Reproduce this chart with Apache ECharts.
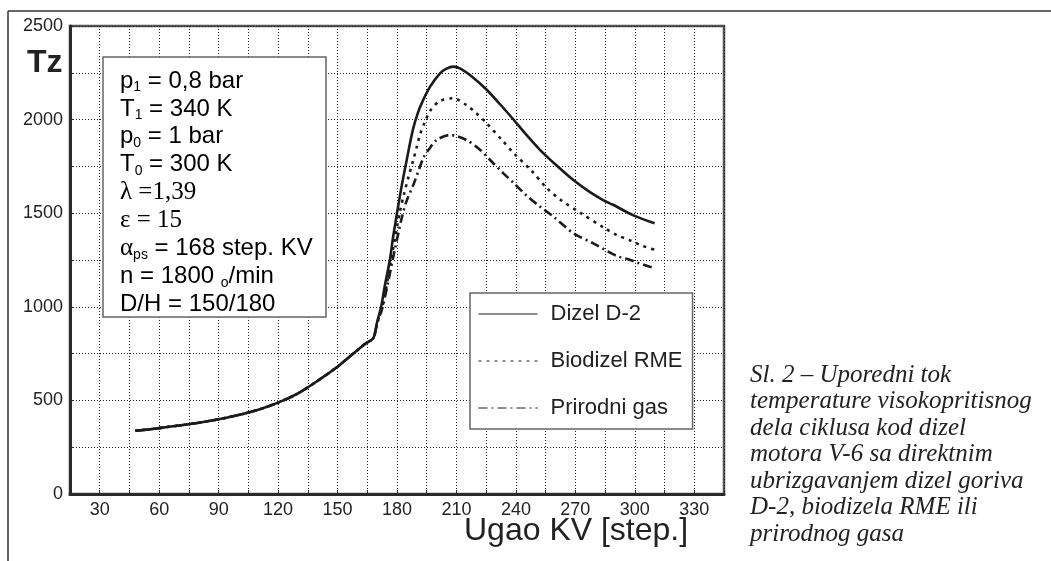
<!DOCTYPE html>
<html>
<head>
<meta charset="utf-8">
<script src="https://cdn.jsdelivr.net/npm/echarts@6/dist/echarts.min.js"></script>
<style>html,body{margin:0;padding:0;background:#fff;}#c{width:1051px;height:561px;}</style>
</head>
<body>
<div id="c"></div>
<script>
// ---- data ----
const seriesNames = ['Dizel D-2', 'Biodizel RME', 'Prirodni gas'];
// compression part shared by all three fuels: [angle, Tz]
const compression = [[48,338],[55,345],[60,352],[70,366],[80,381],[90,399],[100,422],[110,450],[120,488],[130,537],[140,605],[150,680],[155,724],[160,768],[164,803],[168,832]];
const dizel = [[170,920],[172,1000],[174,1120],[176.4,1250],[178,1370],[180,1500],[182.3,1642],[185,1790],[188,1945],[190.5,2035],[193,2100],[196.7,2176],[201.7,2247],[205,2272],[208.4,2283],[212,2272],[218.5,2224],[225,2162],[232,2082],[239,1998],[245,1922],[252,1840],[260,1760],[269,1677],[277,1615],[284,1570],[289,1545],[299,1490],[310,1446]];
const biodizel = [[170,915],[172.6,1000],[177,1250],[181.3,1500],[183.5,1600],[185.7,1690],[188.2,1784],[190,1855],[191.6,1920],[194,1985],[197,2051],[201.7,2100],[208.4,2114],[215,2078],[220,2034],[225.3,1980],[233.7,1882],[239,1820],[247.5,1731],[256,1630],[262.7,1570],[272.8,1500],[285,1419],[291,1383],[298,1353],[304,1325],[310,1305]];
const gas = [[170,912],[172.8,1000],[177.8,1250],[182.5,1480],[185,1570],[188.2,1650],[191.6,1748],[193.5,1800],[196,1840],[200,1891],[206.8,1918],[215,1891],[222,1838],[227,1784],[233.7,1713],[239,1660],[245.8,1590],[252.2,1535],[259,1481],[269,1393],[279,1339],[286.7,1294],[291.8,1268],[297.8,1250],[301.2,1236],[307.6,1214],[310,1206]];
const xTickLabels = [30,60,90,120,150,180,210,240,270,300,330];
const yTickLabels = [0,500,1000,1500,2000,2500];
const paramLines = [
  '{a|p}{s|1}{a| = 0,8 bar}',
  '{a|T}{s|1}{a| = 340 K}',
  '{a|p}{s|0}{a| = 1 bar}',
  '{a|T}{s|0}{a| = 300 K}',
  '{g|λ =1,39}',
  '{g|ε = 15}',
  '{g|α}{s|ps}{a| = 168 step. KV}',
  '{a|n = 1800 }{s|o}{a|/min}',
  '{a|D/H = 150/180}'
];
const caption = 'Sl. 2 – Uporedni tok\ntemperature visokopritisnog\ndela ciklusa kod dizel\nmotora V-6 sa direktnim\nubrizgavanjem dizel goriva\nD-2, biodizela RME ili\nprirodnog gasa';

// ---- chart ----
const SANS = 'Liberation Sans, Arial, sans-serif';
const SERIF = 'Liberation Serif, Times New Roman, serif';
const chart = echarts.init(document.getElementById('c'), null, {renderer: 'canvas'});
const lineColor = '#1b1b1b';
const dashes = ['solid', [3, 5], [9, 4, 2, 4]];
const dataSets = [dizel, biodizel, gas];

const rich = {
  a: {fontFamily: SANS, fontSize: 24, color: '#222', lineHeight: 27},
  s: {fontFamily: SANS, fontSize: 14, color: '#222', lineHeight: 14, verticalAlign: 'bottom'},
  g: {fontFamily: SERIF, fontSize: 25, color: '#222', lineHeight: 27}
};

const graphics = [
  {type: 'line', shape: {x1: 8, y1: 11, x2: 1051, y2: 11}, style: {stroke: '#333', lineWidth: 1.5}, silent: true},
  {type: 'line', shape: {x1: 8, y1: 11, x2: 8, y2: 561}, style: {stroke: '#333', lineWidth: 1.5}, silent: true},
  {type: 'rect', shape: {x: 103, y: 57, width: 223, height: 260}, style: {fill: '#fff', stroke: '#666', lineWidth: 1.5}, z: 10},
  {type: 'text', left: 27, top: 47, style: {text: 'Tz', font: 'bold 32px ' + SANS, fill: '#222'}, z: 10},
  {type: 'text', left: 464, top: 515, style: {text: 'Ugao KV [step.]', font: '32px ' + SANS, fill: '#222'}, z: 10},
  {type: 'text', left: 750, top: 362, style: {text: caption, font: 'italic 25px ' + SERIF, fill: '#222', lineHeight: 26.5}, z: 10}
];
paramLines.forEach((t, i) => {
  graphics.push({type: 'text', x: 120, y: 81 + i * 27.9, z: 11,
    style: {text: t, rich: rich, verticalAlign: 'middle', align: 'left'}});
});

chart.setOption({
  animation: false,
  backgroundColor: '#fff',
  grid: {left: 70, top: 26, right: 327, bottom: 67, show: true, borderColor: '#555', borderWidth: 2.5, backgroundColor: 'transparent'},
  xAxis: {
    type: 'value', min: 15, max: 345, interval: 15,
    axisLine: {lineStyle: {color: '#2a2a2a', width: 3}},
    axisTick: {inside: true, length: 4, lineStyle: {color: '#2a2a2a', width: 1}},
    axisLabel: {margin: 7, fontFamily: SANS, fontSize: 18, color: '#222',
      formatter: v => xTickLabels.indexOf(v) >= 0 ? String(v) : ''},
    splitLine: {show: true, lineStyle: {color: '#222', type: [1, 2], width: 1}}
  },
  yAxis: {
    type: 'value', min: 0, max: 2500, interval: 250,
    axisLine: {show: true, lineStyle: {color: '#2a2a2a', width: 3}},
    axisTick: {show: true, inside: true, length: 4, lineStyle: {color: '#2a2a2a', width: 1}},
    axisLabel: {margin: 7, fontFamily: SANS, fontSize: 18, color: '#222',
      formatter: v => yTickLabels.indexOf(v) >= 0 ? String(v) : ''},
    splitLine: {show: true, lineStyle: {color: '#222', type: [1, 2], width: 1}}
  },
  legend: {
    orient: 'vertical', left: 470, top: 293,
    padding: [10, 10, 10, 8], itemGap: 25, itemWidth: 59, itemHeight: 14,
    backgroundColor: '#fff', borderColor: '#666', borderWidth: 1.5, borderRadius: 0,
    lineStyle: {width: 1},
    itemStyle: {opacity: 0},
    textStyle: {fontFamily: SANS, fontSize: 22, color: '#222', padding: [0, 0, 0, 8]},
    data: seriesNames
  },
  graphic: graphics,
  series: seriesNames.map((n, i) => ({
    name: n, type: 'line', symbol: 'none', smooth: 0.3,
    data: compression.concat(dataSets[i]),
    lineStyle: {color: lineColor, width: 2.6, type: dashes[i]},
    itemStyle: {color: lineColor},
    z: 3 - i
  }))
});
</script>
</body>
</html>
